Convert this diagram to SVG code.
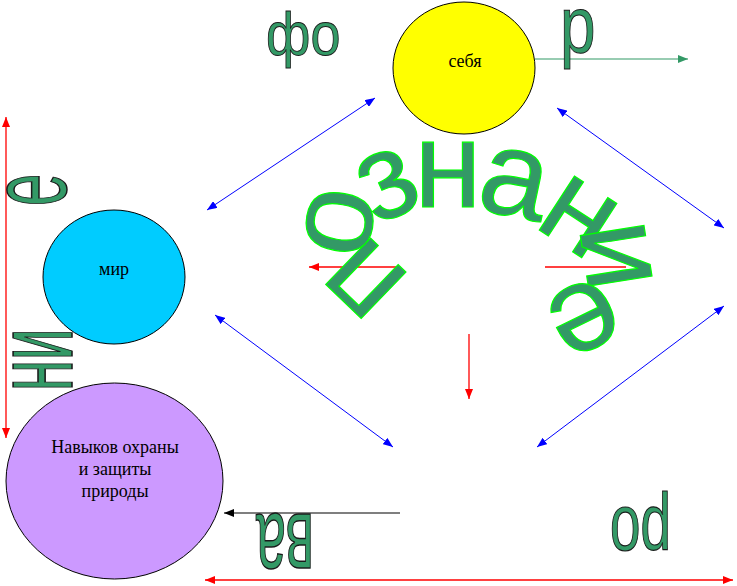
<svg xmlns="http://www.w3.org/2000/svg" width="737" height="586" viewBox="0 0 737 586">
<style>
.node{stroke:#000;stroke-width:1}
.lbl{font-family:"Liberation Serif","Times New Roman",serif;font-size:18px;fill:#000;text-anchor:middle}
.wa{font-family:"Liberation Sans",Arial,sans-serif;fill:#339966;stroke:#1a1a1a;stroke-width:0.8}
.arc{font-family:"Liberation Sans",Arial,sans-serif;font-size:122px;fill:#339966;stroke:#00ff00;stroke-width:1.2;text-anchor:middle}
.blue{stroke:#0000ff;stroke-width:1;fill:none;marker-start:url(#mb);marker-end:url(#mb)}
.red{stroke:#ff0000;stroke-width:1.3;fill:none}
</style>
<defs>
<marker id="mb" viewBox="0 0 10 8" markerWidth="10" markerHeight="8" refX="10" refY="4" orient="auto-start-reverse" markerUnits="userSpaceOnUse"><path d="M0,0 L10,4 L0,8 z" fill="#0000ff"/></marker>
<marker id="mr" viewBox="0 0 10 8" markerWidth="10" markerHeight="8" refX="10" refY="4" orient="auto-start-reverse" markerUnits="userSpaceOnUse"><path d="M0,0 L10,4 L0,8 z" fill="#ff0000"/></marker>
<marker id="mk" viewBox="0 0 10 8" markerWidth="10" markerHeight="8" refX="10" refY="4" orient="auto" markerUnits="userSpaceOnUse"><path d="M0,0 L10,4 L0,8 z" fill="#000"/></marker>
<marker id="mg" viewBox="0 0 10 8" markerWidth="10" markerHeight="8" refX="10" refY="4" orient="auto" markerUnits="userSpaceOnUse"><path d="M0,0 L10,4 L0,8 z" fill="#339966"/></marker>
</defs>
<g id="node-sebya"><ellipse class="node" cx="464" cy="68" rx="71" ry="66" fill="#ffff00"/><text class="lbl" x="465" y="67">себя</text></g>
<g id="node-mir"><ellipse class="node" cx="114" cy="277" rx="71" ry="67" fill="#00ccff"/><text class="lbl" x="114" y="275">мир</text></g>
<g id="node-navyki"><ellipse class="node" cx="114.5" cy="481" rx="108.5" ry="98" fill="#cc99ff"/><text class="lbl" x="115" y="453">Навыков охраны</text><text class="lbl" x="115" y="475">и защиты</text><text class="lbl" x="115" y="497">природы</text></g>
<g id="connectors">
<line class="blue" x1="207" y1="210" x2="375" y2="98"/>
<line class="blue" x1="557" y1="108" x2="724" y2="228"/>
<line class="blue" x1="215" y1="315" x2="393" y2="447"/>
<line class="blue" x1="537" y1="447" x2="724" y2="306"/>
<line class="red" x1="6" y1="117" x2="6" y2="438" marker-start="url(#mr)" marker-end="url(#mr)"/>
<line class="red" x1="205" y1="580" x2="733" y2="580" marker-start="url(#mr)" marker-end="url(#mr)"/>
<line class="red" x1="397" y1="267" x2="309" y2="267" marker-end="url(#mr)"/>
<line class="red" x1="545" y1="267" x2="626" y2="267"/>
<line class="red" x1="469" y1="334" x2="469" y2="399" marker-end="url(#mr)"/>
<line x1="400" y1="513" x2="224" y2="513" stroke="#000" stroke-width="1.2" marker-end="url(#mk)"/>
<line x1="535" y1="59" x2="688" y2="59" stroke="#339966" stroke-width="1.2" marker-end="url(#mg)"/>
</g>
<g id="wordart">
<text class="wa" font-size="54" transform="translate(266,55) scale(1,1.14)">фо</text>
<text class="wa" font-size="64" transform="translate(560,52) scale(1,1.24)">р</text>
<text class="wa" font-size="58" transform="translate(66,206) rotate(-90) scale(1,1.9)">е</text>
<text class="wa" font-size="56" transform="translate(72,391) rotate(-90) scale(1,2)">ни</text>
<text class="wa" font-size="54" transform="translate(314,514) rotate(180) scale(1,1.9)">ва</text>
<text class="wa" font-size="55" transform="translate(671,508) rotate(180) scale(1,1.45)">ро</text>
</g>
<g id="arc-text">
<text class="arc" transform="translate(366,278) rotate(-136)" y="32">п</text>
<text class="arc" transform="translate(340,222) rotate(-80)" y="32">о</text>
<text class="arc" transform="translate(388,185) rotate(-24)" y="32">з</text>
<text class="arc" transform="translate(448,175)" y="32">н</text>
<text class="arc" transform="translate(514,184) rotate(12)" y="32">а</text>
<text class="arc" transform="translate(578,217) rotate(33)" y="32">н</text>
<text class="arc" transform="translate(616,256) rotate(81)" y="32">и</text>
<text class="arc" transform="translate(583,317) rotate(154)" y="32">е</text>
</g>
</svg>
